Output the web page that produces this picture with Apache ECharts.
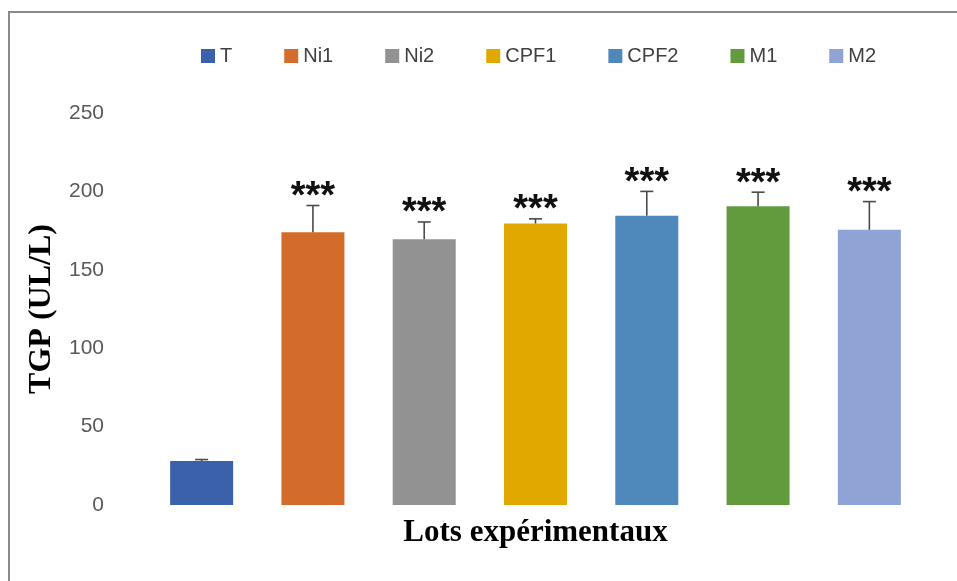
<!DOCTYPE html>
<html>
<head>
<meta charset="utf-8">
<script src="https://cdn.jsdelivr.net/npm/echarts@6/dist/echarts.min.js"></script>
<style>
html,body{margin:0;padding:0;background:#fff;}
#chart{width:957px;height:581px;}
</style>
</head>
<body>
<div id="chart"></div>
<script>
var categories = ['T', 'Ni1', 'Ni2', 'CPF1', 'CPF2', 'M1', 'M2'];
var means = [28, 174, 169.5, 179.5, 184.5, 190.5, 175.5];
var errors = [1, 17, 11, 3, 15.5, 9, 18];
var significance = ['', '***', '***', '***', '***', '***', '***'];
var colors = ['#3C61AC', '#D36C2A', '#929292', '#E1A900', '#4F89BC', '#629A3E', '#8FA3D4'];
var yTicks = [0, 50, 100, 150, 200, 250];

var chart = echarts.init(document.getElementById('chart'), null, {renderer: 'canvas'});

var series = categories.map(function (name, i) {
  return {
    name: name,
    type: 'bar',
    stack: 'all',
    barWidth: 63,
    itemStyle: {color: colors[i]},
    data: categories.map(function (c, j) { return j === i ? means[i] : '-'; })
  };
});

series.push({
  type: 'custom',
  name: 'err',
  silent: true,
  z: 10,
  data: categories.map(function (c, i) { return [i, means[i], means[i] + errors[i], significance[i]]; }),
  renderItem: function (params, api) {
    var x = api.coord([api.value(0), api.value(1)])[0];
    var yLow = api.coord([api.value(0), api.value(1)])[1];
    var yHigh = api.coord([api.value(0), api.value(2)])[1];
    var cap = 6.5;
    var style = {stroke: '#4a4a4a', lineWidth: 1.6};
    var children = [
      {type: 'line', shape: {x1: x, y1: yLow, x2: x, y2: yHigh}, style: style},
      {type: 'line', shape: {x1: x - cap, y1: yHigh, x2: x + cap, y2: yHigh}, style: style}
    ];
    var sig = significance[params.dataIndex];
    if (sig) {
      children.push({
        type: 'text',
        style: {
          text: sig,
          x: x,
          y: yHigh + 11,
          align: 'center',
          verticalAlign: 'bottom',
          fontSize: 38,
          fontWeight: 'bold',
          fontFamily: 'Liberation Sans',
          fill: '#111'
        }
      });
    }
    return {type: 'group', children: children};
  }
});

chart.setOption({
  animation: false,
  backgroundColor: '#ffffff',
  graphic: [{
    type: 'rect',
    shape: {x: 9, y: 12, width: 1000, height: 700},
    style: {fill: 'none', stroke: '#8a8a8a', lineWidth: 2},
    z: -1
  }],
  legend: {
    data: categories,
    top: 41,
    left: 196,
    itemWidth: 14,
    itemHeight: 14,
    itemGap: 52,
    icon: 'rect',
    textStyle: {fontSize: 20, color: '#404040', fontFamily: 'Liberation Sans'}
  },
  grid: {left: 146, right: 32, top: 113, bottom: 76},
  xAxis: {
    type: 'category',
    data: categories,
    axisLine: {show: false},
    axisTick: {show: false},
    axisLabel: {show: false},
    name: 'Lots expérimentaux',
    nameLocation: 'middle',
    nameGap: 12,
    nameTextStyle: {fontSize: 31, fontWeight: 'bold', fontFamily: 'Liberation Serif', color: '#000'}
  },
  yAxis: {
    type: 'value',
    min: yTicks[0],
    max: yTicks[yTicks.length - 1],
    interval: 50,
    axisLine: {show: false},
    axisTick: {show: false},
    splitLine: {show: false},
    axisLabel: {fontSize: 21, color: '#595959', margin: 42, fontFamily: 'Liberation Sans'},
    name: 'TGP (UL/L)',
    nameLocation: 'middle',
    nameGap: 87,
    nameTextStyle: {fontSize: 32, fontWeight: 'bold', fontFamily: 'Liberation Serif', color: '#000'}
  },
  series: series
});
</script>
</body>
</html>
